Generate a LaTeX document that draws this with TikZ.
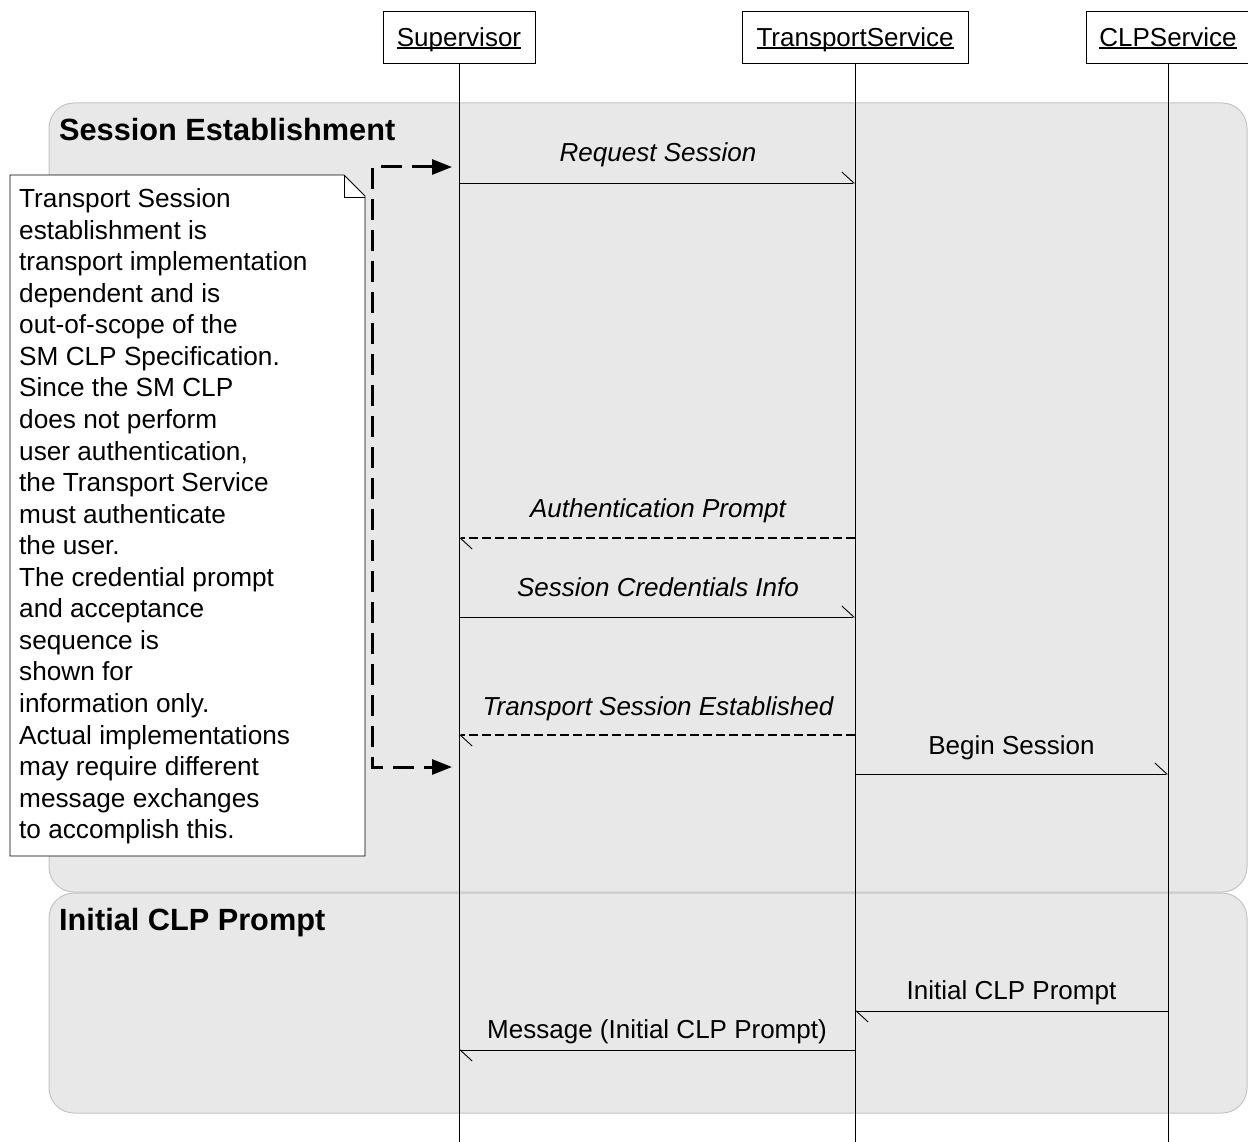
\documentclass[tikz,border=0pt]{standalone}
\usepackage{fontspec}
\setmainfont{Liberation Sans}
\usetikzlibrary{arrows.meta}
\definecolor{framefill}{HTML}{E8E8E8}
\definecolor{frameline}{HTML}{C4C4C4}
\newcommand\ulbox[1]{\setbox0=\hbox{#1}\copy0\llap{\rule[-2pt]{\wd0}{1.3pt}}}
\begin{document}
\begin{tikzpicture}[x=1pt,y=-1pt,
  frame/.style={fill=framefill, draw=frameline, line width=1pt, rounded corners=25pt},
  ftitle/.style={font=\fontsize{30.7}{36}\selectfont\bfseries, anchor=base west, inner sep=0pt},
  head/.style={draw=black, fill=white, line width=1pt, minimum width=#1, minimum height=52pt,
    inner sep=0pt, text height=23pt, text depth=5.5pt, font=\fontsize{26}{31}\selectfont},
  life/.style={draw=black, line width=0.9pt},
  msg/.style={draw=black, line width=0.9pt, -{Straight Barb[left, length=12pt, width=22pt, line width=0.9pt]}},
  reply/.style={msg, line width=1.4pt, dash pattern=on 9pt off 4pt},
  lbl/.style={anchor=base, inner sep=0pt, font=\fontsize{26}{31}\selectfont},
  ilbl/.style={lbl, font=\fontsize{26}{31}\selectfont\itshape},
  notebox/.style={draw=black, fill=white, line width=0.9pt},
  bracket/.style={draw=black, line width=3pt, dash pattern=on 21pt off 10pt,
    {Triangle[length=20pt, width=15pt]}-{Triangle[length=20pt, width=15pt]}}
]
\useasboundingbox (0,0) rectangle (1248,1142);

% frames
\draw[frame] (49,103) rectangle (1247,892);
\draw[frame] (49,893) rectangle (1247,1113);
\node[ftitle] (t1) at (59,141) {Session Establishment};
\node[ftitle] (t2) at (59,930) {Initial CLP Prompt};

% lifelines
\node[head=152pt] (sup) at (459,38) {\ulbox{Supervisor}};
\node[head=226pt] (ts) at (855,38) {\ulbox{TransportService}};
\node[head=164pt] (clp) at (1168,38) {\ulbox{CLPService}};
\coordinate (supE) at (459,1142);
\coordinate (tsE) at (855,1142);
\coordinate (clpE) at (1168,1142);
\draw[life] (sup) -- (supE);
\draw[life] (ts) -- (tsE);
\draw[life] (clp) -- (clpE);

% note
\draw[notebox] (10,175) -- (344,175) -- (365,196) -- (365,856) -- (10,856) -- cycle;
\draw[line width=0.9pt] (344,175) -- (344,197) -- (365,197);
\node[anchor=north west, inner sep=0pt, align=left, font=\fontsize{26.2}{31.55}\selectfont] (notetxt) at (19,188.5)
{Transport Session\\
establishment is\\
transport implementation\\
dependent and is\\
out-of-scope of the\\
SM CLP Specification.\\
Since the SM CLP\\
does not perform\\
user authentication,\\
the Transport Service\\
must authenticate\\
the user.\\
The credential prompt\\
and acceptance\\
sequence is\\
shown for\\
information only.\\
Actual implementations\\
may require different\\
message exchanges\\
to accomplish this.};

% bracket
\coordinate (bA) at (452,167);
\coordinate (bB) at (372,167);
\coordinate (bC) at (372,767);
\coordinate (bD) at (452,767);
\draw[bracket] (bA) -- (bB) -- (bC) -- (bD);

% messages
\draw[msg] (sup |- 0,183) -- (ts |- 0,183);
\node[ilbl] (m1) at (658,162) {Request Session};
\draw[reply] (ts |- 0,538) -- (sup |- 0,538);
\node[ilbl] (m2) at (658,517) {Authentication Prompt};
\draw[msg] (sup |- 0,617) -- (ts |- 0,617);
\node[ilbl] (m3) at (658,596) {Session Credentials Info};
\draw[reply] (ts |- 0,735) -- (sup |- 0,735);
\node[ilbl] (m4) at (658,715) {Transport Session Established};
\draw[msg] (ts |- 0,774) -- (clp |- 0,774);
\node[lbl] (m5) at (1011.5,754) {Begin Session};
\draw[msg] (clp |- 0,1011) -- (ts |- 0,1011);
\node[lbl] (m6) at (1011.5,999) {Initial CLP Prompt};
\draw[msg] (ts |- 0,1050) -- (sup |- 0,1050);
\node[lbl] (m7) at (657,1038) {Message (Initial CLP Prompt)};
\end{tikzpicture}
\end{document}
